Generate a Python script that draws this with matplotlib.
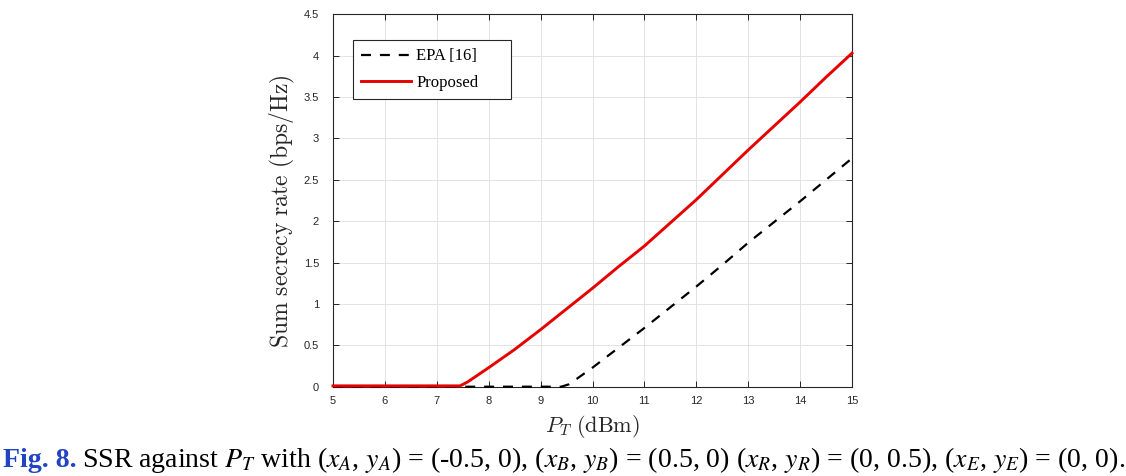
import matplotlib
matplotlib.use('Agg')
import matplotlib.pyplot as plt
import numpy as np

# ---- data ----
proposed_x = [5, 6, 7, 7.45, 7.6, 8, 8.5, 9, 9.5, 10, 10.5, 11, 11.5, 12, 12.5, 13, 13.5, 14, 14.5, 15]
proposed_y = [0.01, 0.01, 0.01, 0.01, 0.06, 0.23, 0.45, 0.69, 0.94, 1.19, 1.45, 1.70, 1.98, 2.26, 2.56, 2.86, 3.15, 3.44, 3.74, 4.03]
epa_x = [5, 6, 7, 8, 9, 9.4, 9.55, 10, 10.5, 11, 11.5, 12, 12.5, 13, 13.5, 14, 14.5, 15]
epa_y = [0, 0, 0, 0, 0, 0, 0.03, 0.23, 0.47, 0.71, 0.96, 1.21, 1.47, 1.74, 1.99, 2.24, 2.50, 2.76]
x_ticks = [5, 6, 7, 8, 9, 10, 11, 12, 13, 14, 15]
y_ticks = [0, 0.5, 1, 1.5, 2, 2.5, 3, 3.5, 4, 4.5]
y_tick_labels = ['0', '0.5', '1', '1.5', '2', '2.5', '3', '3.5', '4', '4.5']
legend_labels = ['EPA [16]', 'Proposed']
caption_head = 'Fig. 8.'
caption_body = (r'SSR against $P_T$ with ($x_A$, $y_A$) = (-0.5, 0), ($x_B$, $y_B$) = (0.5, 0) '
                r'($x_R$, $y_R$) = (0, 0.5), ($x_E$, $y_E$) = (0, 0).')

W, H = 1126, 476
fig = plt.figure(figsize=(W / 100, H / 100), dpi=100)
L, R, T, B = 333, 852, 14.3, 386.7
ax = fig.add_axes([L / W, 1 - B / H, (R - L) / W, (B - T) / H])

ax.plot(epa_x, epa_y, color='black', lw=1.6, dashes=(4.5, 4), label=legend_labels[0], clip_on=False, zorder=3)
ax.plot(proposed_x, proposed_y, color='#e60000', lw=2.1, label=legend_labels[1], clip_on=False, zorder=4)

ax.set_xlim(5, 15)
ax.set_ylim(0, 4.5)
ax.set_xticks(x_ticks)
ax.set_yticks(y_ticks)
ax.set_yticklabels(y_tick_labels)
ax.grid(True, color='#e3e3e3', lw=0.7)
ax.set_axisbelow(True)
for s in ax.spines.values():
    s.set_color('#262626')
    s.set_linewidth(0.8)
ax.tick_params(direction='in', top=True, right=True, length=4, width=0.7, color='#262626',
               labelsize=8, labelcolor='#262626')
ax.tick_params(axis='x', pad=6.5)
ax.tick_params(axis='y', pad=10)
for lab in ax.get_xticklabels() + ax.get_yticklabels():
    lab.set_family('Liberation Sans')

ax.set_ylabel(r'$\mathrm{Sum\ secrecy\ rate\ (bps/Hz)}$', fontsize=17, math_fontfamily='cm', color='#262626')
ax.yaxis.set_label_coords((297 - L) / (R - L), (B - 211) / (B - T))
ax.set_xlabel(r'$P_T\ \mathrm{(dBm)}$', fontsize=16, math_fontfamily='cm', color='#262626')
ax.xaxis.label.set_va('center')
ax.xaxis.set_label_coords(0.5, -(426 - B) / (B - T))

lx0 = (353 - L) / (R - L)
lx1 = (511 - L) / (R - L)
ly1 = (B - 40) / (B - T)
leg = ax.legend(loc='upper left', bbox_to_anchor=(lx0, ly1 - 0.2, lx1 - lx0, 0.2), mode='expand',
                borderaxespad=0, fancybox=False, edgecolor='#262626', framealpha=1,
                prop={'family': 'Liberation Serif', 'size': 12}, handlelength=3.0,
                labelspacing=0.62, borderpad=0.5, handletextpad=0.3)
leg.get_frame().set_linewidth(0.8)

# caption
base_y = 1 - 467 / H
fs = 16
t1 = fig.text(3 / W, base_y, caption_head, fontsize=fs, fontweight='bold', color='#2244c4',
              family='Liberation Serif', va='baseline')
t2 = fig.text(0, base_y, caption_body, fontsize=fs, color='black', family='Liberation Serif',
              math_fontfamily='stix', va='baseline')
for _ in range(3):
    fig.canvas.draw()
    r = fig.canvas.get_renderer()
    e1 = t1.get_window_extent(r)
    t2.set_x((e1.x1 + 5) / W)
    fig.canvas.draw()
    e2 = t2.get_window_extent(r)
    total = e2.x1 - e1.x0
    fs = fs * 1120 / total
    t1.set_fontsize(fs)
    t2.set_fontsize(fs)
fig.canvas.draw()
e1 = t1.get_window_extent(fig.canvas.get_renderer())
t2.set_x((e1.x1 + 5) / W)

fig.savefig('out.png', dpi=100)
